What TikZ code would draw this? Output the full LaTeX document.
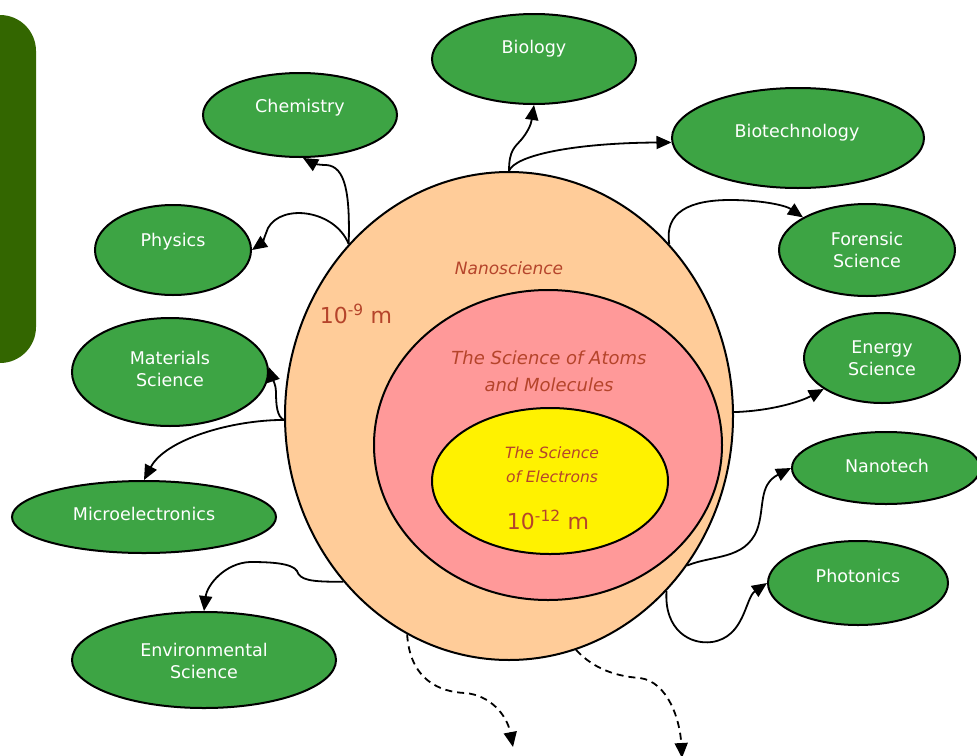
\documentclass[tikz,border=0pt]{standalone}
\usepackage{fontspec}
\setmainfont{DejaVu Sans}
\usetikzlibrary{shapes.geometric,arrows.meta}
\definecolor{leaf}{RGB}{61,164,68}
\definecolor{dkgreen}{RGB}{51,102,0}
\definecolor{peach}{RGB}{255,204,153}
\definecolor{rosy}{RGB}{255,153,153}
\definecolor{brick}{RGB}{181,68,43}
\begin{document}
\begin{tikzpicture}[x=1pt,y=-1pt,
  leafell/.style={ellipse, draw=black, line width=2pt, fill=leaf, inner sep=0pt},
  lbl/.style={text=white, font=\fontsize{17.5}{22}\selectfont, align=center},
  inner/.style={ellipse, draw=black, line width=2pt, inner sep=0pt},
  conn/.style={line width=1.8pt, -{Triangle[length=15pt,width=13pt]}},
  dconn/.style={conn, dash pattern=on 7pt off 5pt},
  brk/.style={text=brick, align=center}]
\useasboundingbox (0,0) rectangle (977,755);
\fill[dkgreen, rounded corners=36pt] (-60,15) rectangle (36,363);

% central ellipses
\node[inner, fill=peach, minimum width=448pt, minimum height=488pt] (nano) at (509,416) {};
\node[inner, fill=rosy, minimum width=348pt, minimum height=310pt] (atoms) at (548,445) {};
\node[inner, fill=yellow, minimum width=236pt, minimum height=146pt] (elec) at (550,481) {};
\node[brk, font=\itshape\fontsize{17}{20}\selectfont] (tnano) at (509,268) {Nanoscience};
\node[brk, font=\fontsize{22}{26}\selectfont] (t9) at (356,314) {10\textsuperscript{-9} m};
\node[brk, font=\itshape\fontsize{18}{27}\selectfont] (tatoms) at (549,371) {The Science of Atoms\\and Molecules};
\node[brk, font=\itshape\fontsize{15.5}{24}\selectfont] (telec) at (552,465) {The Science\\of Electrons};
\node[brk, font=\fontsize{22}{26}\selectfont] (t12) at (548,520) {10\textsuperscript{-12} m};

% outer topics
\node[leafell, minimum width=204pt, minimum height=90pt] (bio) at (534,59) {};
\node[lbl] (tbio) at (534,49) {Biology};
\node[leafell, minimum width=194pt, minimum height=84pt] (chem) at (300,115) {};
\node[lbl] (tchem) at (300,108) {Chemistry};
\node[leafell, minimum width=252pt, minimum height=100pt] (biot) at (798,138) {};
\node[lbl] (tbiot) at (797,133) {Biotechnology};
\node[leafell, minimum width=156pt, minimum height=90pt] (phys) at (173,250) {};
\node[lbl] (tphys) at (173,242) {Physics};
\node[leafell, minimum width=176pt, minimum height=92pt] (fore) at (867,250) {};
\node[lbl] (tfore) at (867,250) {Forensic\\Science};
\node[leafell, minimum width=196pt, minimum height=108pt] (mat) at (170,372) {};
\node[lbl] (tmat) at (170,369) {Materials\\Science};
\node[leafell, minimum width=156pt, minimum height=90pt] (ener) at (882,358) {};
\node[lbl] (tener) at (882,358) {Energy\\Science};
\node[leafell, minimum width=264pt, minimum height=72pt] (micro) at (144,517) {};
\node[lbl] (tmicro) at (144,514) {Microelectronics};
\node[leafell, minimum width=188pt, minimum height=72pt] (ntech) at (886,468) {};
\node[lbl] (tntech) at (887,466) {Nanotech};
\node[leafell, minimum width=180pt, minimum height=84pt] (phot) at (858,583) {};
\node[lbl] (tphot) at (858,576) {Photonics};
\node[leafell, minimum width=264pt, minimum height=96pt] (env) at (204,660) {};
\node[lbl] (tenv) at (204,661) {Environmental\\Science};

\coordinate (d1) at (513,747);
\coordinate (d2) at (682,758);

% connectors
\draw[conn] (nano.north) .. controls (509,150) and (515,147) .. (521,140)
  .. controls (527,133) and (531,125) .. (bio.south);
\draw[conn] (nano.north) .. controls (515,155) and (575,143) .. (biot.182);
\draw[conn] (nano.133) .. controls (350,195) and (346,166) .. (326,165)
  .. controls (318,165) and (312,163) .. (chem.-86);
\draw[conn] (nano.133) .. controls (335,210) and (282,203) .. (268,228)
  .. controls (265,236) and (262,243) .. (phys.east);
\draw[conn] (nano.181) .. controls (277,417) and (276,405) .. (276,392)
  .. controls (276,385) and (273,380) .. (mat.3);
\draw[conn] (nano.181) .. controls (230,420) and (165,440) .. (micro.north);
\draw[conn] (nano.225) .. controls (310,582) and (300,580) .. (297,571)
  .. controls (292,563) and (270,562) .. (250,562)
  .. controls (225,563) and (207,585) .. (env.north);
\draw[conn] (nano.47) .. controls (664,212) and (690,200) .. (730,200)
  .. controls (760,200) and (785,205) .. (fore.153);
\draw[conn] (nano.1) .. controls (770,411) and (800,402) .. (ener.208);
\draw[conn] (nano.-40) .. controls (712,555) and (745,560) .. (757,530)
  .. controls (765,508) and (758,485) .. (ntech.west);
\draw[conn] (nano.-48) .. controls (664,630) and (690,645) .. (712,642)
  .. controls (745,637) and (745,598) .. (phot.west);
\draw[dconn] (nano.245) .. controls (410,680) and (440,692) .. (465,693)
  .. controls (490,695) and (507,715) .. (d1);
\draw[dconn] (nano.286) .. controls (590,665) and (610,676) .. (640,678)
  .. controls (668,682) and (680,720) .. (d2);
\end{tikzpicture}
\end{document}
